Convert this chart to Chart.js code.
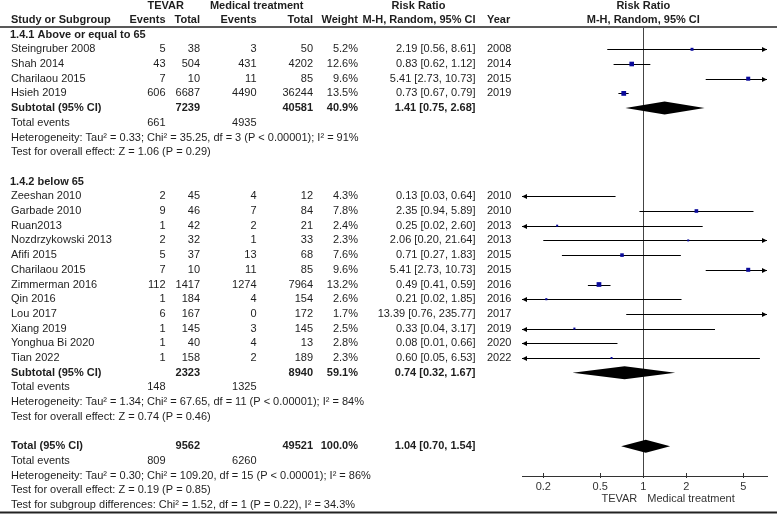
<!DOCTYPE html>
<html><head><meta charset="utf-8">
<script src="https://cdn.jsdelivr.net/npm/chart.js@4.4.1/dist/chart.umd.min.js"></script>
<style>html,body{margin:0;padding:0;background:#fff;} canvas{display:block;}</style>
</head><body>
<canvas id="c" width="777" height="517"></canvas>
<script>
// ---------- data ----------
const group1Title = '1.4.1 Above or equal to 65';
const group1Studies = ['Steingruber 2008', 'Shah 2014', 'Charilaou 2015', 'Hsieh 2019'];
const group1TevarEvents = [5, 43, 7, 606];
const group1TevarTotal = [38, 504, 10, 6687];
const group1MedEvents = [3, 431, 11, 4490];
const group1MedTotal = [50, 4202, 85, 36244];
const group1Weight = [5.2, 12.6, 9.6, 13.5];
const group1RR = [2.19, 0.83, 5.41, 0.73];
const group1Lower = [0.56, 0.62, 2.73, 0.67];
const group1Upper = [8.61, 1.12, 10.73, 0.79];
const group1Year = [2008, 2014, 2015, 2019];
const group1SubTotals = [7239, 40581];
const group1SubWeight = 40.9;
const group1SubCI = [1.41, 0.75, 2.68];
const group1SubEvents = [661, 4935];
const group1Het = 'Heterogeneity: Tau² = 0.33; Chi² = 35.25, df = 3 (P < 0.00001); I² = 91%';
const group1Test = 'Test for overall effect: Z = 1.06 (P = 0.29)';

const group2Title = '1.4.2 below 65';
const group2Studies = ['Zeeshan 2010', 'Garbade 2010', 'Ruan2013', 'Nozdrzykowski 2013', 'Afifi 2015', 'Charilaou 2015',
  'Zimmerman 2016', 'Qin 2016', 'Lou 2017', 'Xiang 2019', 'Yonghua Bi 2020', 'Tian 2022'];
const group2TevarEvents = [2, 9, 1, 2, 5, 7, 112, 1, 6, 1, 1, 1];
const group2TevarTotal = [45, 46, 42, 32, 37, 10, 1417, 184, 167, 145, 40, 158];
const group2MedEvents = [4, 7, 2, 1, 13, 11, 1274, 4, 0, 3, 4, 2];
const group2MedTotal = [12, 84, 21, 33, 68, 85, 7964, 154, 172, 145, 13, 189];
const group2Weight = [4.3, 7.8, 2.4, 2.3, 7.6, 9.6, 13.2, 2.6, 1.7, 2.5, 2.8, 2.3];
const group2RR = [0.13, 2.35, 0.25, 2.06, 0.71, 5.41, 0.49, 0.21, 13.39, 0.33, 0.08, 0.60];
const group2Lower = [0.03, 0.94, 0.02, 0.20, 0.27, 2.73, 0.41, 0.02, 0.76, 0.04, 0.01, 0.05];
const group2Upper = [0.64, 5.89, 2.60, 21.64, 1.83, 10.73, 0.59, 1.85, 235.77, 3.17, 0.66, 6.53];
const group2Year = [2010, 2010, 2013, 2013, 2015, 2015, 2016, 2016, 2017, 2019, 2020, 2022];
const group2SubTotals = [2323, 8940];
const group2SubWeight = 59.1;
const group2SubCI = [0.74, 0.32, 1.67];
const group2SubEvents = [148, 1325];
const group2Het = 'Heterogeneity: Tau² = 1.34; Chi² = 67.65, df = 11 (P < 0.00001); I² = 84%';
const group2Test = 'Test for overall effect: Z = 0.74 (P = 0.46)';

const overallTotals = [9562, 49521];
const overallWeight = 100.0;
const overallCI = [1.04, 0.70, 1.54];
const overallEvents = [809, 6260];
const overallHet = 'Heterogeneity: Tau² = 0.30; Chi² = 109.20, df = 15 (P < 0.00001); I² = 86%';
const overallTest = 'Test for overall effect: Z = 0.19 (P = 0.85)';
const subgroupTest = 'Test for subgroup differences: Chi² = 1.52, df = 1 (P = 0.22), I² = 34.3%';

const xTickValues = [0.2, 0.5, 1, 2, 5];
const xTickLabels = ['0.2', '0.5', '1', '2', '5'];
const xMin = 0.142, xMax = 7.32;
const favoursLeft = 'TEVAR', favoursRight = 'Medical treatment';

// ---------- layout ----------
const ROW0 = 34.6, PITCH = 14.7, AREA_TOP = 28, AREA_BOTTOM = 476;
const FONT = '"Liberation Sans", Arial, Helvetica, sans-serif';
const TXT = '#1e1e1e';
const COL = {name: 11, head: 10, te: 165.5, tt: 200, me: 256.5, mt: 313, w: 358, rr: 475.5, year: 487};

const rows = [];
let rIdx = 0;
function addGroup(title, names, te, tt, me, mt, w, rr, lo, hi, yr, subT, subW, subCI, subE, het, test) {
  rows.push({r: rIdx++, kind: 'heading', text: title});
  names.forEach((n, i) => rows.push({r: rIdx++, kind: 'study', name: n, te: te[i], tt: tt[i], me: me[i], mt: mt[i],
    w: w[i], rr: rr[i], lo: lo[i], hi: hi[i], year: yr[i]}));
  rows.push({r: rIdx++, kind: 'summary', label: 'Subtotal (95% CI)', tt: subT[0], mt: subT[1], w: subW,
    rr: subCI[0], lo: subCI[1], hi: subCI[2]});
  rows.push({r: rIdx++, kind: 'events', te: subE[0], me: subE[1]});
  rows.push({r: rIdx++, kind: 'note', text: het});
  rows.push({r: rIdx++, kind: 'note', text: test});
  rIdx++;
}
addGroup(group1Title, group1Studies, group1TevarEvents, group1TevarTotal, group1MedEvents, group1MedTotal,
  group1Weight, group1RR, group1Lower, group1Upper, group1Year, group1SubTotals, group1SubWeight, group1SubCI,
  group1SubEvents, group1Het, group1Test);
addGroup(group2Title, group2Studies, group2TevarEvents, group2TevarTotal, group2MedEvents, group2MedTotal,
  group2Weight, group2RR, group2Lower, group2Upper, group2Year, group2SubTotals, group2SubWeight, group2SubCI,
  group2SubEvents, group2Het, group2Test);
rows.push({r: rIdx++, kind: 'summary', label: 'Total (95% CI)', tt: overallTotals[0], mt: overallTotals[1],
  w: overallWeight, rr: overallCI[0], lo: overallCI[1], hi: overallCI[2]});
rows.push({r: rIdx++, kind: 'events', te: overallEvents[0], me: overallEvents[1]});
rows.push({r: rIdx++, kind: 'note', text: overallHet});
rows.push({r: rIdx++, kind: 'note', text: overallTest});
rows.push({r: rIdx++, kind: 'note', text: subgroupTest});

const studyRows = rows.filter(o => o.kind === 'study');
const summaryRows = rows.filter(o => o.kind === 'summary');
const fmtCI = (a, b, c) => `${a.toFixed(2)} [${b.toFixed(2)}, ${c.toFixed(2)}]`;

function arrow(ctx, x, y, dir) {
  ctx.beginPath();
  ctx.moveTo(x, y);
  ctx.lineTo(x - dir * 5, y - 2.6);
  ctx.lineTo(x - dir * 5, y + 2.6);
  ctx.closePath();
  ctx.fill();
}

const forestPlugin = {
  id: 'forest',
  beforeDatasetsDraw(chart) {
    const {ctx, chartArea, scales: {x, y}} = chart;
    ctx.save();
    ctx.strokeStyle = '#000'; ctx.fillStyle = '#000'; ctx.lineWidth = 1;
    studyRows.forEach(s => {
      const py = Math.round(y.getPixelForValue(s.r)) + 0.5;
      const clipL = s.lo < x.min, clipR = s.hi > x.max;
      const left = clipL ? chartArea.left : x.getPixelForValue(s.lo);
      const right = clipR ? chartArea.right : x.getPixelForValue(s.hi);
      ctx.beginPath(); ctx.moveTo(left, py); ctx.lineTo(right, py); ctx.stroke();
      if (clipL) arrow(ctx, left, py, -1);
      if (clipR) arrow(ctx, right, py, 1);
    });
    summaryRows.forEach(s => {
      const py = y.getPixelForValue(s.r);
      const pl = x.getPixelForValue(s.lo), pc = x.getPixelForValue(s.rr), pr = x.getPixelForValue(s.hi);
      ctx.beginPath();
      ctx.moveTo(pl, py); ctx.lineTo(pc, py - 6.5); ctx.lineTo(pr, py); ctx.lineTo(pc, py + 6.5);
      ctx.closePath(); ctx.fill();
    });
    ctx.restore();
  },
  afterDraw(chart) {
    const {ctx, chartArea, scales: {x, y}} = chart;
    ctx.save();
    // upward part of the axis tick marks
    ctx.strokeStyle = '#333'; ctx.lineWidth = 1;
    xTickValues.forEach(v => {
      const px = Math.round(x.getPixelForValue(v)) + 0.5;
      ctx.beginPath(); ctx.moveTo(px, chartArea.bottom - 3); ctx.lineTo(px, chartArea.bottom); ctx.stroke();
    });
    ctx.fillStyle = TXT;
    ctx.textBaseline = 'middle';
    const t = (s, px, py, align, bold) => {
      ctx.font = (bold ? 'bold ' : '') + '11px ' + FONT;
      ctx.textAlign = align;
      ctx.fillText(String(s), px, py);
    };
    // header
    const h1 = 6, h2 = 19.5;
    t('TEVAR', 165.7, h1, 'center', true);
    t('Medical treatment', 256.7, h1, 'center', true);
    t('Risk Ratio', 418.5, h1, 'center', true);
    const p1 = x.getPixelForValue(1);
    t('Risk Ratio', p1, h1, 'center', true);
    t('Study or Subgroup', COL.name, h2, 'left', true);
    t('Events', COL.te, h2, 'right', true);
    t('Total', COL.tt, h2, 'right', true);
    t('Events', COL.me, h2, 'right', true);
    t('Total', COL.mt, h2, 'right', true);
    t('Weight', COL.w, h2, 'right', true);
    t('M-H, Random, 95% CI', COL.rr, h2, 'right', true);
    t('Year', COL.year, h2, 'left', true);
    t('M-H, Random, 95% CI', p1, h2, 'center', true);
    // rows
    rows.forEach(o => {
      const py = y.getPixelForValue(o.r);
      if (o.kind === 'heading') t(o.text, COL.head, py, 'left', true);
      else if (o.kind === 'study') {
        t(o.name, COL.name, py, 'left');
        t(o.te, COL.te, py, 'right'); t(o.tt, COL.tt, py, 'right');
        t(o.me, COL.me, py, 'right'); t(o.mt, COL.mt, py, 'right');
        t(o.w.toFixed(1) + '%', COL.w, py, 'right');
        t(fmtCI(o.rr, o.lo, o.hi), COL.rr, py, 'right');
        t(o.year, COL.year, py, 'left');
      } else if (o.kind === 'summary') {
        t(o.label, COL.name, py, 'left', true);
        t(o.tt, COL.tt, py, 'right', true); t(o.mt, COL.mt, py, 'right', true);
        t(o.w.toFixed(1) + '%', COL.w, py, 'right', true);
        t(fmtCI(o.rr, o.lo, o.hi), COL.rr, py, 'right', true);
      } else if (o.kind === 'events') {
        t('Total events', COL.name, py, 'left');
        t(o.te, COL.te, py, 'right'); t(o.me, COL.me, py, 'right');
      } else t(o.text, COL.name, py, 'left');
    });
    // favours labels
    ctx.fillStyle = '#333';
    t(favoursLeft, p1 - 6, 498.5, 'right');
    t(favoursRight, p1 + 4, 498.5, 'left');
    // rules
    ctx.strokeStyle = '#222';
    ctx.lineWidth = 1.5;
    ctx.beginPath(); ctx.moveTo(0, 27); ctx.lineTo(777, 27); ctx.stroke();
    ctx.lineWidth = 2;
    ctx.beginPath(); ctx.moveTo(0, 512.5); ctx.lineTo(777, 512.5); ctx.stroke();
    ctx.restore();
  }
};

const pointData = studyRows.map(s => ({x: s.rr, y: s.r, w: s.w}));

new Chart(document.getElementById('c'), {
  type: 'scatter',
  data: {
    datasets: [{
      data: pointData,
      pointStyle: 'rect',
      backgroundColor: '#0a0a9a',
      borderWidth: 0,
      pointRadius: ctx => (1.3 * Math.sqrt(ctx.raw ? ctx.raw.w : 1)) / Math.SQRT2,
      pointHoverRadius: ctx => (1.3 * Math.sqrt(ctx.raw ? ctx.raw.w : 1)) / Math.SQRT2
    }]
  },
  options: {
    responsive: false,
    animation: false,
    devicePixelRatio: 1,
    events: [],
    layout: {padding: {left: 522, right: 10, top: AREA_TOP, bottom: 0}},
    plugins: {legend: {display: false}, tooltip: {enabled: false}},
    scales: {
      x: {
        type: 'logarithmic',
        min: xMin, max: xMax, bounds: 'data',
        afterBuildTicks: sc => { sc.ticks = xTickValues.map(v => ({value: v})); },
        afterFit: sc => { sc.height = 517 - AREA_BOTTOM; },
        border: {display: true, color: '#333', width: 1},
        grid: {
          drawOnChartArea: true,
          color: c => (c.tick && c.tick.value === 1) ? '#444' : 'rgba(0,0,0,0)',
          tickColor: '#333', tickLength: 2, lineWidth: 1
        },
        ticks: {
          autoSkip: false, maxRotation: 0, padding: 2, color: '#333',
          font: {family: FONT, size: 11},
          callback: (v, i) => xTickLabels[i]
        }
      },
      y: {
        type: 'linear', display: false, reverse: true,
        min: (AREA_TOP - ROW0) / PITCH, max: (AREA_BOTTOM - ROW0) / PITCH
      }
    }
  },
  plugins: [forestPlugin]
});
</script>
</body></html>
